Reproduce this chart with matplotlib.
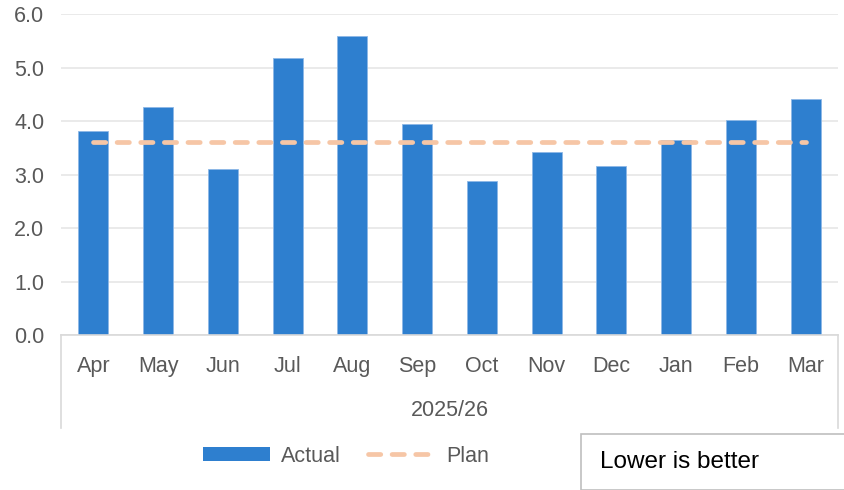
import matplotlib.pyplot as plt
from matplotlib.lines import Line2D
from matplotlib.patches import Patch, Rectangle

months = ["Apr", "May", "Jun", "Jul", "Aug", "Sep", "Oct", "Nov", "Dec", "Jan", "Feb", "Mar"]
actual = [3.81, 4.26, 3.10, 5.17, 5.58, 3.95, 2.88, 3.42, 3.15, 3.65, 4.01, 4.42]
plan = [3.6] * 12
year_label = "2025/26"

plt.rcParams["font.family"] = ["Liberation Sans", "DejaVu Sans"]
W, H = 845, 490
fig = plt.figure(figsize=(W / 100, H / 100), dpi=100)
ax = fig.add_axes([61 / W, 1 - 335 / H, (838 - 61) / W, (335 - 14) / H])

x = list(range(len(months)))
bar_col = "#2E7FCF"
plan_col = "#F6C6A6"
txt_col = "#595959"
fs = 15.5
ax.bar(x, actual, width=0.46, color=bar_col, edgecolor="#8DB8E6", linewidth=0.6, zorder=2)
ax.plot(x, plan, color=plan_col, lw=3.4, dashes=(2.6, 2.4), dash_capstyle="round", zorder=3)

ax.set_xlim(-0.5, len(months) - 0.5)
ax.set_ylim(0, 6)
ax.set_yticks([0, 1, 2, 3, 4, 5, 6])
ax.set_yticklabels([f"{v:.1f}" for v in range(7)])
ax.tick_params(axis="y", length=0, pad=12, labelsize=fs, labelcolor=txt_col)
ax.tick_params(axis="x", length=0, pad=15, labelsize=fs, labelcolor=txt_col)
ax.set_xticks(x)
ax.set_xticklabels(months)
ax.grid(axis="y", color="#E6E6E6", lw=1.2, zorder=0)
for s in ["top", "right", "left"]:
    ax.spines[s].set_visible(False)
ax.spines["bottom"].set_color("#D9D9D9")
ax.spines["bottom"].set_linewidth(1.2)

# category group box
gray = "#D9D9D9"
fig.add_artist(Line2D([61 / W, 61 / W], [1 - 335 / H, 1 - 428 / H], color=gray, lw=1.2))
fig.add_artist(Line2D([838 / W, 838 / W], [1 - 335 / H, 1 - 428 / H], color=gray, lw=1.2))
fig.text((61 + 838) / 2 / W, 1 - 411 / H, year_label, ha="center", va="center",
         fontsize=fs, color=txt_col)

handles = [
    Patch(facecolor=bar_col, edgecolor="none"),
    Line2D([0], [0], color=plan_col, lw=3.4, dashes=(2.6, 2.4), dash_capstyle="round"),
]
fig.legend(handles, ["Actual", "Plan"], loc="center", bbox_to_anchor=(346 / W, 1 - 456 / H),
           ncol=2, frameon=False, fontsize=fs, labelcolor=txt_col,
           handlelength=3.1, handleheight=0.65, handletextpad=0.5, columnspacing=1.3)

fig.add_artist(Rectangle((581 / W, 0), 1 - 581 / W, 1 - 434 / H, transform=fig.transFigure,
                         facecolor="white", edgecolor="#BFBFBF", lw=1.2))
fig.text(600 / W, 1 - 462 / H, "Lower is better", ha="left", va="center", fontsize=17.5, color="black")

fig.savefig("out.png", dpi=100)
